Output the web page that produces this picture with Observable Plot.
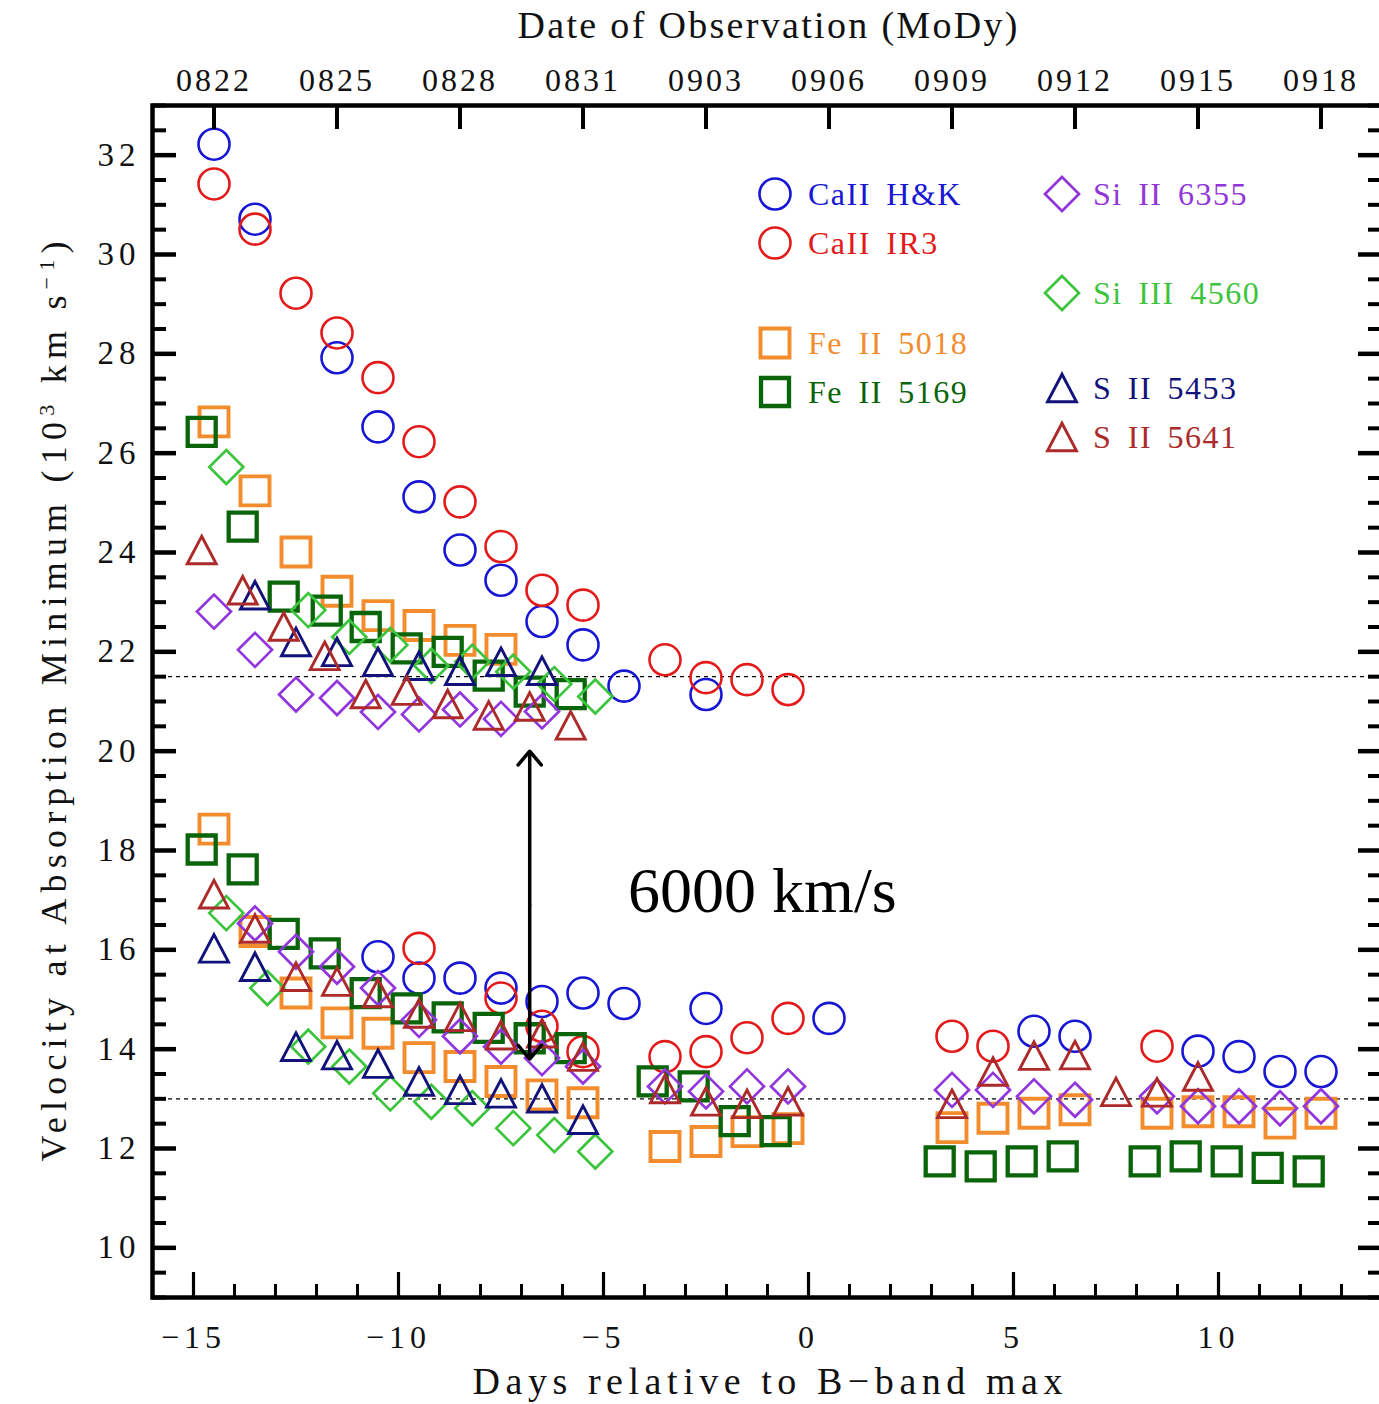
<!DOCTYPE html>
<html><head><meta charset="utf-8">
<script src="https://cdn.jsdelivr.net/npm/d3@7"></script>
<script src="https://cdn.jsdelivr.net/npm/@observablehq/plot@0.6"></script>
<style>
html,body{margin:0;padding:0;background:#fff;overflow:hidden;}
#wrap{position:relative;width:1379px;height:1404px;overflow:hidden;}
g[aria-label="x-axis tick label"] text{letter-spacing:3px;}
g[aria-description="bottom-ticks"] text{letter-spacing:5px;}
g[aria-label="y-axis tick label"] text{letter-spacing:5px;font-size:33px;}
.leg{position:absolute;font-family:'Liberation Serif','Times New Roman',serif;font-size:32px;letter-spacing:1.5px;word-spacing:6px;white-space:nowrap;line-height:1;}
.legsym{position:absolute;}
</style></head><body><div id="wrap"></div>
<script>
// ---------------- data (days relative to B max, velocity in 10^3 km/s) ----------------
const caHK_day = [-14.5,-13.5,-11.5,-10.5,-9.5,-8.5,-7.5,-6.5,-5.5,-4.5,-2.5,-10.5,-9.5,-8.5,-7.5,-6.5,-5.5,-4.5,-2.5,0.5,5.5,6.5,9.5,10.5,11.5,12.5];
const caHK_vel = [32.22,30.71,27.92,26.53,25.12,24.05,23.44,22.61,22.14,21.31,21.14,15.86,15.43,15.43,15.23,14.96,15.13,14.92,14.82,14.62,14.36,14.26,13.96,13.85,13.55,13.55];

const caIR3_day = [-14.5,-13.5,-12.5,-11.5,-10.5,-9.5,-8.5,-7.5,-6.5,-5.5,-3.5,-2.5,-1.5,-0.5,-9.5,-7.5,-6.5,-5.5,-3.5,-2.5,-1.5,-0.5,3.5,4.5,8.5];
const caIR3_vel = [31.42,30.51,29.22,28.42,27.52,26.23,25.02,24.12,23.24,22.94,21.84,21.48,21.44,21.24,16.03,15.03,14.46,13.95,13.85,13.95,14.23,14.62,14.26,14.06,14.06];

const fe5018_day = [-14.5,-13.5,-12.5,-11.5,-10.5,-9.5,-8.5,-7.5,-14.5,-13.5,-12.5,-11.5,-10.5,-9.5,-8.5,-7.5,-6.5,-5.5,-3.5,-2.5,-1.5,-0.5,3.5,4.5,5.5,6.5,8.5,9.5,10.5,11.5,12.5];
const fe5018_vel = [26.63,25.24,24.01,23.22,22.73,22.53,22.23,22.05,18.43,16.37,15.13,14.53,14.32,13.83,13.65,13.35,13.08,12.92,12.04,12.14,12.34,12.4,12.42,12.61,12.71,12.78,12.71,12.74,12.74,12.51,12.71];

const fe5169_day = [-14.8,-13.8,-12.8,-11.75,-10.8,-9.8,-8.8,-7.8,-6.8,-5.8,-14.8,-13.8,-12.8,-11.8,-10.8,-9.8,-8.8,-7.8,-6.8,-5.8,-3.8,-2.8,-1.8,-0.8,3.2,4.2,5.2,6.2,8.2,9.2,10.2,11.2,12.2];
const fe5169_vel = [26.43,24.52,23.11,22.83,22.5,22.07,22.0,21.52,21.2,21.15,18.02,17.62,16.32,15.93,15.13,14.82,14.64,14.43,14.22,14.02,13.35,13.25,12.55,12.35,11.74,11.64,11.74,11.84,11.74,11.84,11.74,11.61,11.54];

const si6355_day = [-14.5,-13.5,-12.5,-11.5,-10.5,-9.5,-8.5,-7.5,-6.5,-13.5,-12.5,-11.5,-10.5,-9.5,-8.5,-7.5,-6.5,-5.5,-3.5,-2.5,-1.5,-0.5,3.5,4.5,5.5,6.5,8.5,9.5,10.5,11.5,12.5];
const si6355_vel = [22.81,22.04,21.14,21.07,20.79,20.74,20.84,20.65,20.8,16.53,15.96,15.66,15.23,14.59,14.26,14.05,13.82,13.65,13.25,13.15,13.25,13.25,13.18,13.18,13.05,12.98,13.05,12.85,12.85,12.81,12.85];

const si4560_day = [-14.2,-12.2,-11.2,-10.2,-9.2,-8.2,-7.2,-6.2,-5.2,-14.2,-13.2,-12.2,-11.2,-10.2,-9.2,-8.2,-7.2,-6.2,-5.2];
const si4560_vel = [25.72,22.84,22.3,22.14,21.72,21.8,21.6,21.35,21.1,16.74,15.23,14.05,13.65,13.11,12.94,12.81,12.41,12.27,11.94];

const s5453_day = [-13.5,-12.5,-11.5,-10.5,-9.5,-8.5,-7.5,-6.5,-14.5,-13.5,-12.5,-11.5,-10.5,-9.5,-8.5,-7.5,-6.5,-5.5];
const s5453_vel = [23.14,22.2,22.0,21.8,21.72,21.62,21.8,21.62,16.03,15.66,14.05,13.88,13.71,13.35,13.18,13.11,13.01,12.58];

const s5641_day = [-14.8,-13.8,-12.8,-11.8,-10.8,-9.8,-8.8,-7.8,-6.8,-5.8,-14.5,-13.5,-12.5,-11.5,-10.5,-9.5,-8.5,-7.5,-6.5,-5.5,-3.5,-2.5,-1.5,-0.5,3.5,4.5,5.5,6.5,7.5,8.5,9.5];
const s5641_vel = [24.05,23.24,22.51,21.92,21.15,21.22,20.95,20.72,20.9,20.52,17.12,16.43,15.46,15.36,15.13,14.72,14.65,14.28,14.32,13.85,13.2,12.95,12.9,12.95,12.9,13.55,13.87,13.88,13.14,13.13,13.45];

const seriesNames = ["CaII H&K","CaII IR3","Fe II 5018","Fe II 5169","Si II 6355","Si III 4560","S II 5453","S II 5641"];
const seriesDays = [caHK_day, caIR3_day, fe5018_day, fe5169_day, si6355_day, si4560_day, s5453_day, s5641_day];
const seriesVels = [caHK_vel, caIR3_vel, fe5018_vel, fe5169_vel, si6355_vel, si4560_vel, s5453_vel, s5641_vel];

const topTickDays = [-14.5,-11.5,-8.5,-5.5,-2.5,0.5,3.5,6.5,9.5,12.5];
const topTickLabels = ["0822","0825","0828","0831","0903","0906","0909","0912","0915","0918"];
const bottomTickValues = [-15,-10,-5,0,5,10];
const yTickValues = [10,12,14,16,18,20,22,24,26,28,30,32];
const referenceLevels = [21.5, 13.0];
const gapArrow = {day: -6.8, low: 13.8, high: 20.0};
const gapLabel = {day: -4.4, vel: 17.17, text: "6000 km/s"};

// ---------------- styles ----------------
const sq = {draw(c, s){const a=Math.sqrt(s/Math.PI); c.moveTo(-a,-a); c.lineTo(a,-a); c.lineTo(a,a); c.lineTo(-a,a); c.closePath();}};
const dia = {draw(c, s){const a=Math.sqrt(s/Math.PI); c.moveTo(0,-a); c.lineTo(a,0); c.lineTo(0,a); c.lineTo(-a,0); c.closePath();}};
const tri = {draw(c, s){const a=Math.sqrt(s/Math.PI); const h=a*0.95; c.moveTo(0,-h); c.lineTo(a,h); c.lineTo(-a,h); c.closePath();}};
const circ = {draw(c, s){const a=Math.sqrt(s/Math.PI); c.moveTo(a,0); c.arc(0,0,a,0,2*Math.PI);}};
const looks = [
  {color:"#1616d4", symbol:circ, r:15.5, sw:2.6},
  {color:"#e41a1a", symbol:circ, r:15.5, sw:2.6},
  {color:"#f28c2c", symbol:sq, r:14.5, sw:3.9},
  {color:"#0a640a", symbol:sq, r:14, sw:4.3},
  {color:"#9236dc", symbol:dia, r:17, sw:2.7},
  {color:"#3cc43c", symbol:dia, r:17, sw:2.7},
  {color:"#12127a", symbol:tri, r:14.5, sw:2.9},
  {color:"#ac2a2a", symbol:tri, r:14.5, sw:2.9}
];
const legendPos = [[775,194,808],[775,243,808],[775,343,808],[775,392,808],[1062,194,1093],[1062,293,1093],[1062,388,1093],[1062,437,1093]];

const W = 1383, H = 1404, mL = 152, mR = 1, mT = 105, mB = 107;
const pW = W - mL - mR, pH = H - mT - mB;
const yMinor = d3.range(9, 33.01, 0.5).filter(v => !yTickValues.includes(v));
const xMinor = d3.range(-16, 14.01, 1).filter(v => !bottomTickValues.includes(v));
const topLabelMap = new Map(topTickDays.map((d,i)=>[d, topTickLabels[i]]));
const serif = "'Liberation Serif','Times New Roman',serif";
const fmtMinus = d => d < 0 ? "\u2212" + Math.abs(d) : String(d);

const dotMarks = seriesNames.map((name, i) => Plot.dot(d3.zip(seriesDays[i], seriesVels[i]), {
  x: d => d[0], y: d => d[1], symbol: looks[i].symbol, r: looks[i].r,
  stroke: looks[i].color, strokeWidth: looks[i].sw, fill: "none"
}));
const arrowMid = (gapArrow.low + gapArrow.high) / 2;

const svg = Plot.plot({
  width: W, height: H, marginLeft: mL, marginRight: mR, marginTop: mT, marginBottom: mB,
  x: {domain: [-16, 14]},
  y: {domain: [9, 33]},
  style: {fontFamily: serif, fontSize: "32px", color: "#111", background: "white", maxWidth: "none", overflow: "visible"},
  marks: [
    Plot.ruleY(referenceLevels, {y: d => d, stroke: "#000", strokeWidth: 1.4, strokeDasharray: "4,4"}),
    ...dotMarks,
    Plot.arrow([{y1: arrowMid, y2: gapArrow.high}, {y1: arrowMid, y2: gapArrow.low}], {
      x1: () => gapArrow.day, x2: () => gapArrow.day, y1: "y1", y2: "y2",
      stroke: "#000", strokeWidth: 3.5, headLength: 7.7, headAngle: 80
    }),
    Plot.text([gapLabel], {x: "day", y: "vel", text: "text", textAnchor: "start", lineAnchor: "middle", fontSize: 64, fontFamily: serif, fill: "#000"}),
    // ticks
    Plot.ruleX(xMinor, {x: d => d, insetTop: pH - 13, stroke: "#000", strokeWidth: 3}),
    Plot.ruleX(bottomTickValues, {x: d => d, insetTop: pH - 25, stroke: "#000", strokeWidth: 3.2}),
    Plot.ruleX(topTickDays, {x: d => d, insetBottom: pH - 24, stroke: "#000", strokeWidth: 4}),
    Plot.ruleY(yMinor, {y: d => d, insetRight: pW - 14, stroke: "#000", strokeWidth: 4}),
    Plot.ruleY(yTickValues, {y: d => d, insetRight: pW - 24, stroke: "#000", strokeWidth: 4.5}),
    Plot.ruleY(yMinor, {y: d => d, insetLeft: pW - 14, stroke: "#000", strokeWidth: 4}),
    Plot.ruleY(yTickValues, {y: d => d, insetLeft: pW - 24, stroke: "#000", strokeWidth: 4.5}),
    Plot.frame({stroke: "#000", strokeWidth: 4.5}),
    // tick labels
    Plot.axisX(bottomTickValues, {anchor: "bottom", tickSize: 0, tickPadding: 28, tickFormat: fmtMinus, label: null, ariaDescription: "bottom-ticks"}),
    Plot.axisX(topTickDays, {anchor: "top", tickSize: 0, tickPadding: 15, tickFormat: d => topLabelMap.get(d), label: null}),
    Plot.axisY(yTickValues, {anchor: "left", tickSize: 0, tickPadding: 12, tickFormat: d => String(d), label: null}),
    // titles
    Plot.text(["Days relative to B\u2212band max"], {frameAnchor: "bottom", dy: 84, lineAnchor: "middle", textAnchor: "middle", text: d => d, fontSize: 38, ariaDescription: "bottom-title"}),
    Plot.text(["Date of Observation (MoDy)"], {frameAnchor: "top", dy: -80, lineAnchor: "middle", textAnchor: "middle", text: d => d, fontSize: 38, ariaDescription: "top-title"}),
    Plot.text(["Velocity at Absorption Minimum (10"], {frameAnchor: "left", dx: -98, rotate: -90, lineAnchor: "middle", textAnchor: "middle", text: d => d, fontSize: 36, ariaDescription: "y-title"})
  ]
});

// title fine-tuning
const setLen = (t, len) => { if (t) { t.setAttribute("textLength", len); t.setAttribute("lengthAdjust", "spacing"); } };
setLen(svg.querySelector('g[aria-description="bottom-title"] text'), 590);
setLen(svg.querySelector('g[aria-description="top-title"] text'), 500);
const yt = svg.querySelector('g[aria-description="y-title"] text');
if (yt) {
  const parts = [["Velocity at Absorption Minimum (10", null], ["3", "super"], [" km s", null], ["\u22121", "super"], [")", null]];
  yt.textContent = "";
  for (const [txt, shift] of parts) {
    const ts = document.createElementNS("http://www.w3.org/2000/svg", "tspan");
    ts.textContent = txt;
    if (shift) { ts.setAttribute("baseline-shift", "super"); ts.setAttribute("font-size", "22"); }
    yt.appendChild(ts);
  }
  setLen(yt, 920);
}

const wrap = document.getElementById("wrap");
wrap.appendChild(svg);

// legend
seriesNames.forEach((name, i) => {
  const [sx, sy, tx] = legendPos[i];
  const L = looks[i];
  const s = d3.create("svg").attr("class", "legsym").attr("width", 44).attr("height", 44)
    .style("left", (sx - 22) + "px").style("top", (sy - 22) + "px");
  s.append("path").attr("transform", "translate(22,22)")
    .attr("d", d3.symbol(L.symbol, Math.PI * L.r * L.r)())
    .attr("fill", "none").attr("stroke", L.color).attr("stroke-width", L.sw);
  wrap.appendChild(s.node());
  const t = document.createElement("div");
  t.className = "leg";
  t.textContent = name;
  t.style.color = L.color;
  t.style.left = tx + "px";
  t.style.top = (sy - 16) + "px";
  wrap.appendChild(t);
});
</script></body></html>
